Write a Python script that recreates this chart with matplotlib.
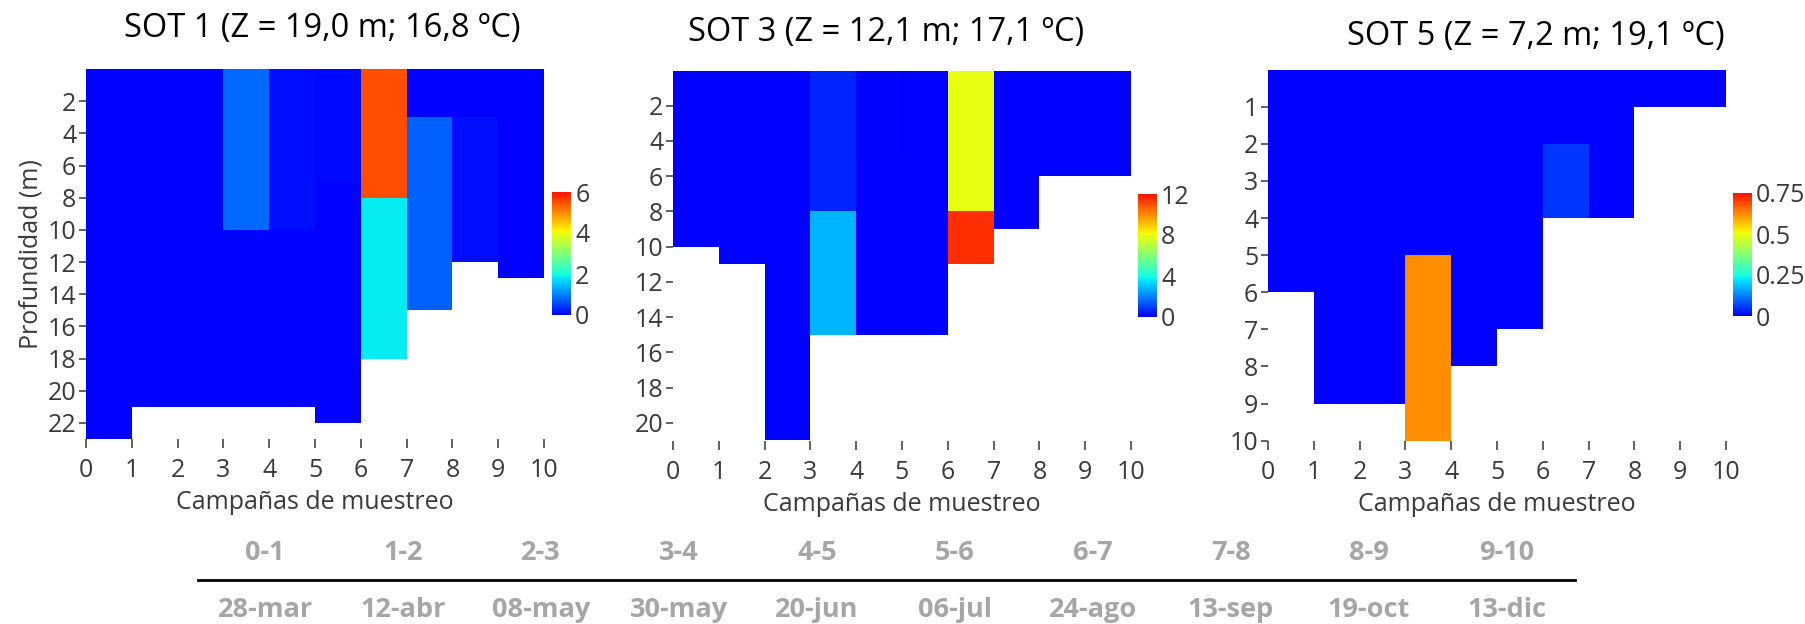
import numpy as np
import matplotlib
matplotlib.use("Agg")
import matplotlib.pyplot as plt
from matplotlib.colors import ListedColormap

plt.rcParams['font.family'] = ['Open Sans', 'DejaVu Sans']

# campaigns 0..10 on the x axis, one column per interval
campaigns = np.arange(11)

# SOT 1: bottom depth of each column and patches (column, top, bottom, value)
sot1_bottom = [23, 21, 21, 21, 21, 22, 18, 15, 12, 13]
sot1_patches = [(3, 0, 10, 0.8), (4, 0, 10, 0.1), (5, 0, 7, 0.08),
                (6, 0, 8, 5.5), (6, 8, 18, 1.85), (7, 3, 15, 0.75), (8, 3, 12, 0.12)]

# SOT 3
sot3_bottom = [10, 11, 21, 15, 15, 15, 11, 9, 6, 6]
sot3_patches = [(3, 0, 8, 0.64), (3, 8, 15, 2.8), (4, 0, 5, 0.1),
                (6, 0, 8, 7.95), (6, 8, 11, 11.5)]

# SOT 5
sot5_bottom = [6, 9, 9, 10, 8, 7, 4, 4, 1, 1]
sot5_patches = [(3, 5, 10, 0.62), (6, 2, 4, 0.05)]

titles = ["SOT 1 (Z = 19,0 m; 16,8 ºC)", "SOT 3 (Z = 12,1 m; 17,1 ºC)",
          "SOT 5 (Z = 7,2 m; 19,1 ºC)"]
vmaxes = [6, 12, 0.75]
ymaxes = [23, 21, 10]
yticks = [list(range(2, 23, 2)), list(range(2, 21, 2)), list(range(1, 11))]
cbar_ticks = [[0, 2, 4, 6], [0, 4, 8, 12], [0, 0.25, 0.5, 0.75]]
cbar_labels = [["0", "2", "4", "6"], ["0", "4", "8", "12"], ["0", "0.25", "0.5", "0.75"]]

intervals = ["0-1", "1-2", "2-3", "3-4", "4-5", "5-6", "6-7", "7-8", "8-9", "9-10"]
dates = ["28-mar", "12-abr", "08-may", "30-may", "20-jun", "06-jul",
         "24-ago", "13-sep", "19-oct", "13-dic"]

# jet without the dark ends: blue -> cyan -> yellow -> red
cmap = ListedColormap(plt.cm.jet(np.linspace(0.125, 0.89, 256)))

W, H = 1806, 624
fig = plt.figure(figsize=(W / 100, H / 100), dpi=100)

def fx(px):
    return px / W

def fy(px):
    return 1 - px / H

axes_px = [(86, 544, 69, 439), (673, 1131, 70.5, 440.5), (1268, 1726, 69.6, 440.6)]
cbar_px = [(552, 571, 192, 315), (1138, 1157, 194, 317), (1733, 1752, 193, 316)]
title_px = [(322, 28), (886, 32), (1536, 36)]

panels = [(sot1_bottom, sot1_patches), (sot3_bottom, sot3_patches),
          (sot5_bottom, sot5_patches)]

tick_col = '#555555'
lab_col = '#3a3a3a'

for i, (bottoms, patches) in enumerate(panels):
    ymax = ymaxes[i]
    grid = np.full((ymax, 10), np.nan)
    for c, b in enumerate(bottoms):
        grid[:b, c] = 0
    for c, t, b, v in patches:
        grid[t:b, c] = v
    grid = np.ma.masked_invalid(grid)

    l, r, t, b = axes_px[i]
    ax = fig.add_axes([fx(l), fy(b), fx(r - l), (b - t) / H])
    mesh = ax.pcolormesh(campaigns, np.arange(ymax + 1), grid, cmap=cmap,
                         vmin=0, vmax=vmaxes[i], shading='flat')
    ax.set_xlim(0, 10)
    ax.set_ylim(ymax, 0)
    for s in ax.spines.values():
        s.set_visible(False)
    ax.set_xticks(campaigns)
    ax.set_yticks(yticks[i])
    ax.tick_params(axis='x', length=6.5, width=1.3, color=tick_col, pad=7.5,
                   labelsize=18, labelcolor=lab_col)
    ax.tick_params(axis='y', length=5, width=1.3, color=tick_col, pad=2,
                   labelsize=18, labelcolor=lab_col)
    ax.set_xlabel("Campañas de muestreo", fontsize=18, color=lab_col, labelpad=5)
    if i == 0:
        ax.set_ylabel("Profundidad (m)", fontsize=18, color=lab_col, labelpad=3)

    cl, cr, ct, cb_ = cbar_px[i]
    cax = fig.add_axes([fx(cl), fy(cb_), fx(cr - cl), (cb_ - ct) / H])
    cbar = fig.colorbar(mesh, cax=cax, ticks=cbar_ticks[i])
    cbar.ax.set_yticklabels(cbar_labels[i])
    cbar.outline.set_visible(False)
    cax.tick_params(length=0, pad=3, labelsize=18, labelcolor=lab_col)

    tx, ty = title_px[i]
    fig.text(fx(tx), fy(ty), titles[i], ha='center', va='center',
             fontsize=23.5, color='black')

# table of intervals and dates below the panels
for k in range(10):
    x = fx(265 + k * 138)
    fig.text(x, fy(553), intervals[k], ha='center', va='center', fontsize=19.5,
             fontweight='bold', color='#a6a6a6')
    fig.text(x, fy(610), dates[k], ha='center', va='center', fontsize=19.5,
             fontweight='bold', color='#a6a6a6')
fig.add_artist(plt.Line2D([fx(198), fx(1575)], [fy(580), fy(580)],
                          color='black', linewidth=2))

fig.savefig("out.png", dpi=100)
